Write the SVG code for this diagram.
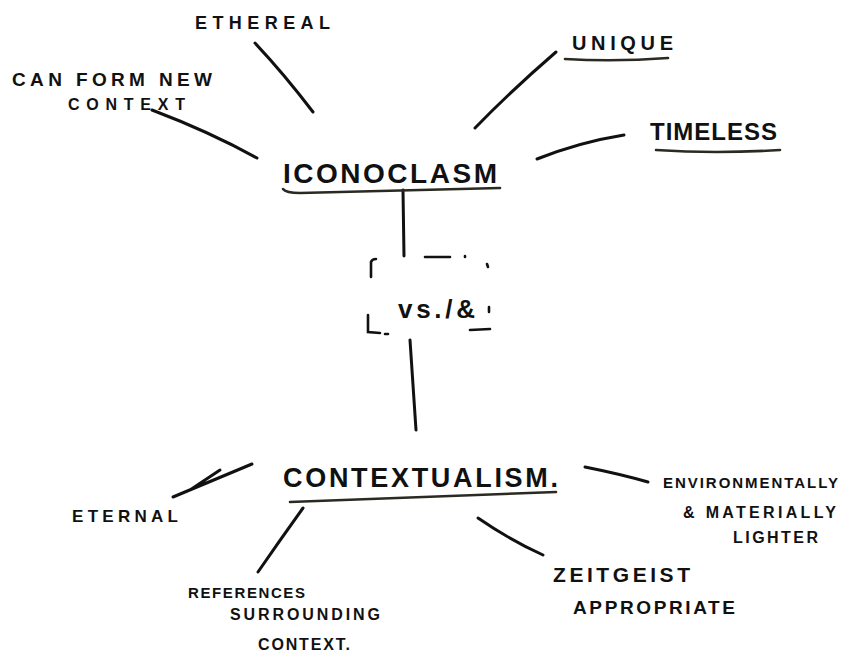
<svg xmlns="http://www.w3.org/2000/svg" width="842" height="656" viewBox="0 0 842 656">
<style>
  .t { font-family: "Liberation Sans", Arial, sans-serif; fill: #111; font-weight: bold; }
  .ln { fill: none; stroke: #111; stroke-width: 3; stroke-linecap: round; stroke-linejoin: round; }
  .ul { fill: none; stroke: #2a2a22; stroke-width: 2.6; stroke-linecap: round; }
  .bx { fill: none; stroke: #111; stroke-width: 2.6; stroke-linecap: round; }
</style>
<rect width="842" height="656" fill="#ffffff"/>
<g id="connectors">
  <path class="ln" d="M255,43 Q285,75 313,112"/>
  <path class="ln" d="M152,110 Q210,132 257,158"/>
  <path class="ln" d="M475,128 Q512,90 556,52"/>
  <path class="ln" d="M537,159 Q580,142 624,135"/>
  <path class="ln" d="M403,190 L404,256"/>
  <path class="ln" d="M410,340 L416,430"/>
  <path class="ln" d="M173,497 L252,464 M190,490 L220,470"/>
  <path class="ln" d="M303,508 Q280,540 258,572"/>
  <path class="ln" d="M585,467 Q620,474 648,482"/>
  <path class="ln" d="M478,518 Q510,540 543,555"/>
</g>
<g id="ethereal">
  <text class="t" x="195" y="29" font-size="18" textLength="135" lengthAdjust="spacing">ETHEREAL</text>
</g>
<g id="can-form-new-context">
  <text class="t" x="12" y="86" font-size="19" textLength="200" lengthAdjust="spacing">CAN FORM NEW</text>
  <text class="t" x="68" y="110" font-size="16" textLength="117" lengthAdjust="spacing">CONTEXT</text>
</g>
<g id="unique">
  <text class="t" x="572" y="50" font-size="20" textLength="101" lengthAdjust="spacing">UNIQUE</text>
  <path class="ul" d="M565,59 Q615,62 668,58"/>
</g>
<g id="timeless">
  <text class="t" x="650" y="140" font-size="24" textLength="127" lengthAdjust="spacing">TIMELESS</text>
  <path class="ul" d="M656,150 Q715,154 780,150"/>
</g>
<g id="iconoclasm">
  <text class="t" x="283" y="183" font-size="28" textLength="214" lengthAdjust="spacing">ICONOCLASM</text>
  <path class="ul" d="M283,189 Q286,193 300,193 L500,188"/>
</g>
<g id="vs">
  <path class="bx" d="M371,277 L371,262 Q372,259 376,259 M425,257 L450,257 M465,256 L465,257 M487,264 L488,267 M489,307 L489,312 M470,330 L490,329 M368,315 L368,332 L380,333 M385,334 L388,334"/>
  <text class="t" x="398" y="318" font-size="26" textLength="77" lengthAdjust="spacing" font-weight="normal">vs./&amp;</text>
</g>
<g id="contextualism">
  <text class="t" x="283" y="487" font-size="27" textLength="275" lengthAdjust="spacing">CONTEXTUALISM.</text>
  <path class="ul" d="M290,502 L556,492"/>
</g>
<g id="eternal">
  <text class="t" x="72" y="522" font-size="17" textLength="106" lengthAdjust="spacing">ETERNAL</text>
</g>
<g id="references-surrounding-context">
  <text class="t" x="188" y="598" font-size="15" textLength="117" lengthAdjust="spacing">REFERENCES</text>
  <text class="t" x="230" y="620" font-size="16" textLength="150" lengthAdjust="spacing">SURROUNDING</text>
  <text class="t" x="258" y="650" font-size="16" textLength="92" lengthAdjust="spacing">CONTEXT.</text>
</g>
<g id="environmentally-materially-lighter">
  <text class="t" x="663" y="488" font-size="15" textLength="175" lengthAdjust="spacing">ENVIRONMENTALLY</text>
  <text class="t" x="683" y="518" font-size="16" textLength="153" lengthAdjust="spacing">&amp; MATERIALLY</text>
  <text class="t" x="733" y="543" font-size="16" textLength="85" lengthAdjust="spacing">LIGHTER</text>
</g>
<g id="zeitgeist-appropriate">
  <text class="t" x="553" y="582" font-size="21" textLength="137" lengthAdjust="spacing">ZEITGEIST</text>
  <text class="t" x="573" y="614" font-size="19" textLength="162" lengthAdjust="spacing">APPROPRIATE</text>
</g>
</svg>
